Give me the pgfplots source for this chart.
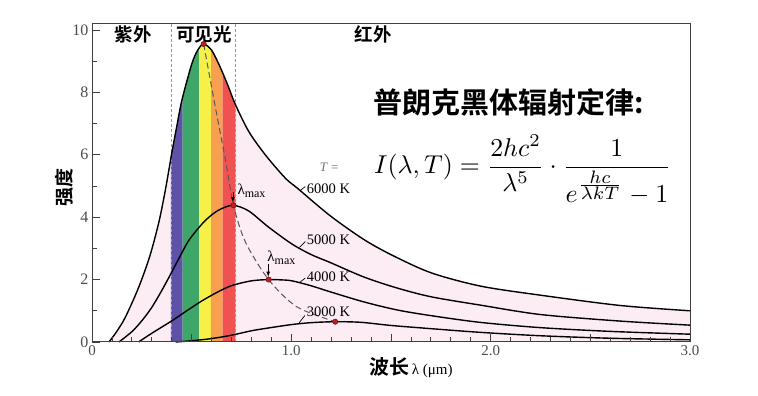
\documentclass[border=0pt]{standalone}
\usepackage{fontspec}
\setmainfont{Liberation Serif}
\newfontfamily\cjkb{Noto Sans CJK SC Bold}
\usepackage{graphicx}
\usepackage{pgfplots}
\pgfplotsset{compat=1.18}
\usepgfplotslibrary{fillbetween}
\definecolor{pinkc}{RGB}{252,237,244}
\definecolor{bblue}{RGB}{92,82,168}
\definecolor{bgreen}{RGB}{62,166,104}
\definecolor{byellow}{RGB}{246,240,72}
\definecolor{borange}{RGB}{246,160,80}
\definecolor{bred}{RGB}{240,82,82}
\definecolor{dotred}{RGB}{190,30,30}
\pgfplotstableread{
x y
0.085 0
0.12 0.3
0.167 0.79
0.234 1.75
0.29 2.75
0.334 3.8
0.36 4.6
0.38 5.3
0.40 6.05
0.425 6.9
0.451 7.75
0.50 8.9
0.53 9.35
0.56 9.55
0.60 9.35
0.64 8.85
0.68 8.25
0.72 7.6
0.786 6.75
0.869 6.0
0.97 5.25
1.03 4.93
1.194 4.05
1.36 3.3
1.50 2.8
1.70 2.22
1.95 1.79
2.25 1.5
2.65 1.17
3.0 1.0
}\tsix
\pgfplotstableread{
x y
0.135 0
0.2 0.33
0.25 0.68
0.30 1.11
0.35 1.65
0.401 2.25
0.45 2.85
0.485 3.25
0.53 3.62
0.568 3.89
0.61 4.12
0.652 4.28
0.71 4.38
0.786 4.2
0.886 3.68
1.003 3.14
1.1 2.8
1.194 2.55
1.361 2.09
1.52 1.75
1.7 1.45
1.95 1.18
2.25 0.88
2.65 0.67
3.0 0.54
}\tfive
\pgfplotstableread{
x y
0.234 0
0.3 0.28
0.401 0.68
0.48 1.02
0.552 1.32
0.63 1.6
0.702 1.81
0.8 1.96
0.886 2.0
0.95 1.99
1.003 1.96
1.1 1.8
1.194 1.61
1.361 1.29
1.528 1.03
1.695 0.85
1.946 0.63
2.25 0.46
2.6 0.34
3.0 0.25
}\tfour
\pgfplotstableread{
x y
0.42 0
0.5 0.04
0.6 0.11
0.702 0.22
0.8 0.36
0.886 0.45
1.003 0.56
1.1 0.62
1.22 0.65
1.35 0.63
1.5 0.53
1.695 0.43
1.946 0.31
2.25 0.2
2.6 0.12
3.0 0.07
}\tthree
\begin{document}
\begin{tikzpicture}
\begin{axis}[
  at={(92pt,54pt)}, anchor=south west,
  scale only axis, width=598pt, height=318pt,
  xmin=0, xmax=3, ymin=0, ymax=10.19,
  clip=false, axis on top,
  axis line style={black!75, line width=1pt},
  tick align=inside, xtick pos=bottom, ytick pos=left,
  xtick={0,1,2,3}, xticklabels={0,1.0,2.0,3.0},
  minor x tick num=9,
  ytick={0,2,4,6,8,10}, minor y tick num=1,
  extra x ticks={0.5,1.5,2.5}, extra x tick labels={},
  major tick length=8pt, minor tick length=4.5pt,
  tick style={black!75, line width=0.8pt},
  xticklabel style={font=\fontsize{15}{15}\selectfont, text=black!70},
  yticklabel style={font=\fontsize{16}{16}\selectfont, text=black!70},
  /pgf/number format/assume math mode=true,
]
\addplot[draw=none, name path=base, forget plot] coordinates {(0,0) (3,0)};
\addplot[draw=none, smooth, name path=T6, forget plot] table[x=x,y=y] {\tsix};
\draw[dash pattern=on 3pt off 2pt, black!40, line width=0.7pt] (axis cs:0.396,0) -- (axis cs:0.396,10.19);
\draw[dash pattern=on 3pt off 2pt, black!40, line width=0.7pt] (axis cs:0.719,0) -- (axis cs:0.719,10.19);
\addplot[fill=pinkc, draw=none] fill between[of=T6 and base];
\addplot[fill=bblue, draw=none] fill between[of=T6 and base, soft clip={domain=0.396:0.455}];
\addplot[fill=bgreen, draw=none] fill between[of=T6 and base, soft clip={domain=0.455:0.538}];
\addplot[fill=byellow, draw=none] fill between[of=T6 and base, soft clip={domain=0.538:0.597}];
\addplot[fill=borange, draw=none] fill between[of=T6 and base, soft clip={domain=0.597:0.655}];
\addplot[fill=bred, draw=none] fill between[of=T6 and base, soft clip={domain=0.655:0.719}];
% curves
\addplot[black, line width=1.4pt, smooth] table[x=x,y=y] {\tsix};
\addplot[black, line width=1.4pt, smooth] table[x=x,y=y] {\tfive};
\addplot[black, line width=1.4pt, smooth] table[x=x,y=y] {\tfour};
\addplot[black, line width=1.4pt, smooth] table[x=x,y=y] {\tthree};
% peak locus
\addplot[black!65, line width=1pt, dash pattern=on 6pt off 3.5pt, smooth] coordinates {
(0.56,9.55) (0.619,7.52) (0.669,5.85) (0.71,4.38) (0.77,3.2) (0.886,2.0) (1.027,1.13) (1.22,0.65)};
\addplot[only marks, mark=*, mark size=2.7pt, mark options={fill=dotred, draw=black!50!dotred}] coordinates {
(0.56,9.55) (0.71,4.38) (0.886,2.0) (1.22,0.65)};
% arrows
\draw[-latex, black, line width=0.8pt] (axis cs:0.707,4.8) -- (axis cs:0.707,4.47);
\draw[-latex, black, line width=0.8pt] (axis cs:0.884,2.5) -- (axis cs:0.884,2.09);
\node[font=\fontsize{15}{15}\selectfont] at (axis cs:0.80,4.85) {λ\raisebox{-0.45ex}{\fontsize{12}{12}\selectfont max}};
\node[font=\fontsize{15}{15}\selectfont] at (axis cs:0.95,2.7) {λ\raisebox{-0.45ex}{\fontsize{12}{12}\selectfont max}};
% temperature labels
\node[font=\fontsize{13}{13}\selectfont, text=black!55] at (axis cs:1.19,5.6) {\textit{T} =};
\node[anchor=west, font=\fontsize{14.5}{14.5}\selectfont, inner sep=0pt] at (axis cs:1.077,4.92) {6000 K};
\node[anchor=west, font=\fontsize{14.5}{14.5}\selectfont, inner sep=0pt] at (axis cs:1.077,3.27) {5000 K};
\node[anchor=west, font=\fontsize{14.5}{14.5}\selectfont, inner sep=0pt] at (axis cs:1.077,2.09) {4000 K};
\node[anchor=west, font=\fontsize{14.5}{14.5}\selectfont, inner sep=0pt] at (axis cs:1.077,0.97) {3000 K};
\draw[black, line width=0.7pt] (axis cs:1.043,4.85) -- (axis cs:1.07,4.98);
\draw[black, line width=0.7pt] (axis cs:1.040,3.03) -- (axis cs:1.07,3.22);
\draw[black, line width=0.7pt] (axis cs:1.040,1.90) -- (axis cs:1.07,2.05);
\draw[black, line width=0.7pt] (axis cs:1.035,0.58) -- (axis cs:1.068,0.85);
% region labels
\node at (axis cs:0.206,9.84) {\fontsize{18.5}{18.5}\selectfont\cjkb 紫外};
\node at (axis cs:0.562,9.84) {\fontsize{18.5}{18.5}\selectfont\cjkb 可见光};
\node at (axis cs:1.41,9.84) {\fontsize{18.5}{18.5}\selectfont\cjkb 红外};
% title and formula
\node[anchor=west, inner sep=0pt] at (axis cs:1.409,7.67) {\fontsize{29}{29}\selectfont\cjkb 普朗克黑体辐射定律:};
\node[inner sep=0pt] at (axis cs:2.161,5.51) {\resizebox{297pt}{!}{$\displaystyle I(\lambda,T)=\frac{2hc^2}{\lambda^5}\cdot\frac{1}{e^{\frac{\scriptstyle hc}{\scriptstyle\lambda kT}}-1}$}};
% axis labels
\node[yshift=-26pt] at (axis cs:1.6,0) {{\fontsize{20}{20}\selectfont\cjkb 波长} {\fontsize{15}{15}\selectfont λ (μm)}};
\node[rotate=90] at (axis cs:-0.14,4.94) {\fontsize{19}{19}\selectfont\cjkb 强度};
\end{axis}
\path (0,0) rectangle (758pt,396pt);
\end{tikzpicture}
\end{document}
